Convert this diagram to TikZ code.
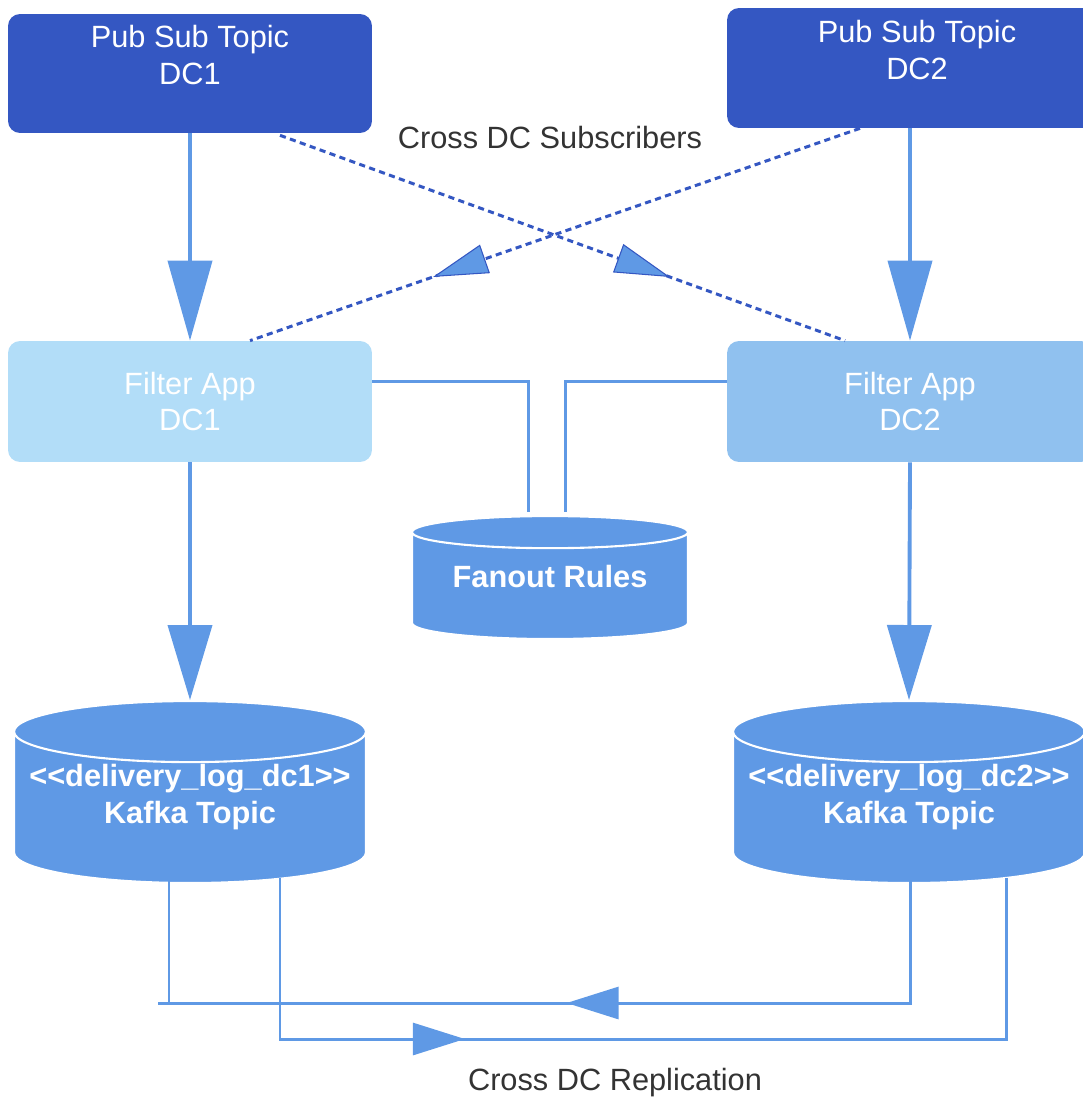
\documentclass[tikz,border=0pt]{standalone}
\usepackage{fontspec}
\setmainfont{Liberation Sans}
\usetikzlibrary{arrows.meta,shapes.geometric,decorations.markings,calc}
\definecolor{pubblue}{HTML}{3457C2}
\definecolor{filterA}{HTML}{B2DDF8}
\definecolor{filterB}{HTML}{90C1EF}
\definecolor{flowblue}{HTML}{5F99E5}
\definecolor{labelgray}{HTML}{333333}
\begin{document}
\begin{tikzpicture}[x=0.02cm, y=-0.02cm, font=\fontsize{17.5}{21}\selectfont,
    box/.style={rounded corners=0.24cm, align=center, text=white, inner sep=0pt},
    db/.style={cylinder, shape border rotate=90, draw=white, line width=1.2pt, fill=flowblue,
        text=white, align=center, inner sep=0pt, anchor=north, font=\fontsize{17.5}{21}\selectfont\bfseries},
    flow/.style={draw=flowblue, line width=2.2pt},
    bigtip/.style={-{Triangle[length=1.6cm, width=0.88cm]}},
    sub/.style={draw=pubblue, line width=1.7pt, dash pattern=on 3.5pt off 2.5pt,
        postaction={decorate, decoration={markings, mark=at position #1 with
        {\arrow{Triangle[length=1.1cm, width=0.6cm, fill=flowblue, line width=0.6pt]}}}}},
    repl/.style={draw=flowblue, line width=1.7pt,
        postaction={decorate, decoration={markings, mark=at position #1 with
        {\arrow{Triangle[length=1.04cm, width=0.64cm, fill=flowblue]}}}}}]
    \useasboundingbox (0,0) rectangle (1082,1101);
    % topics and filter apps
    \node[box, fill=pubblue, minimum width=7.28cm, minimum height=2.38cm] (pub1) at (190,73.5) {Pub Sub Topic\\DC1\\\mbox{}};
    \node[box, fill=pubblue, minimum width=7.6cm, minimum height=2.4cm] (pub2) at (917,68) {Pub Sub Topic\\DC2\\\mbox{}};
    \node[box, fill=filterA, minimum width=7.28cm, minimum height=2.42cm] (filter1) at (190,401.5) {Filter App\\DC1};
    \node[box, fill=filterB, minimum width=7.32cm, minimum height=2.42cm] (filter2) at (910,401.5) {Filter App\\DC2};
    % stores
    \node[db, aspect=0.165, minimum width=5.52cm, minimum height=2.46cm, text depth=11pt] (fanout) at (550,515) {Fanout Rules};
    \node[db, aspect=0.19, minimum width=7.04cm, minimum height=3.64cm, text height=21.6pt, text depth=4pt] (kafka1) at (190,700) {{<}{<}delivery\_log\_dc1{>}{>}\\Kafka Topic};
    \node[db, aspect=0.19, minimum width=7.04cm, minimum height=3.64cm, text height=21.6pt, text depth=4pt] (kafka2) at (909,700) {{<}{<}delivery\_log\_dc2{>}{>}\\Kafka Topic};
    \node[text=labelgray] (sublabel) at (550,138) {Cross DC Subscribers};
    \node[text=labelgray] (repllabel) at (615,1083) {Cross DC Replication};
    % main flow
    \draw[flow, bigtip] (pub1.south) -- (filter1.north);
    \draw[flow, bigtip] ($(pub2.south)+(-7,0)$) -- (filter2.north);
    \draw[flow, -{Triangle[length=1.5cm, width=0.88cm]}] (filter1.south) -- (kafka1.north);
    \draw[flow, -{Triangle[length=1.5cm, width=0.88cm]}] (filter2.south) -- (kafka2.north);
    \draw[sub=0.69] ($(pub1.south)+(90,2)$) -- ($(filter2.north)+(-65,0)$);
    \draw[sub=0.70] ($(pub2.south)+(-57,0)$) -- ($(filter1.north)+(60,0)$);
    \draw[flow, line width=1.7pt] ($(filter1.east)+(0,-20)$) -| ($(fanout.north)+(-22,-3)$);
    \draw[flow, line width=1.7pt] ($(filter2.west)+(0,-20)$) -| ($(fanout.north)+(15,-3)$);
    % replication
    \coordinate (r1right) at (910,1003);
    \coordinate (r1left) at (158,1003);
    \coordinate (r1join) at (169,1003);
    \coordinate (r2left) at (280,1039);
    \coordinate (r2right) at (1006,1039);
    \draw[repl=0.533] ($(kafka2.south)+(1,-4)$) -- (r1right) -- (r1left);
    \draw[flow, line width=1.7pt] ($(kafka1.south)+(-21,-4)$) -- (r1join);
    \draw[repl=0.33] ($(kafka1.south)+(90,-6)$) -- (r2left) -- (r2right) -- ($(kafka2.south)+(97,-6)$);
\end{tikzpicture}
\end{document}
